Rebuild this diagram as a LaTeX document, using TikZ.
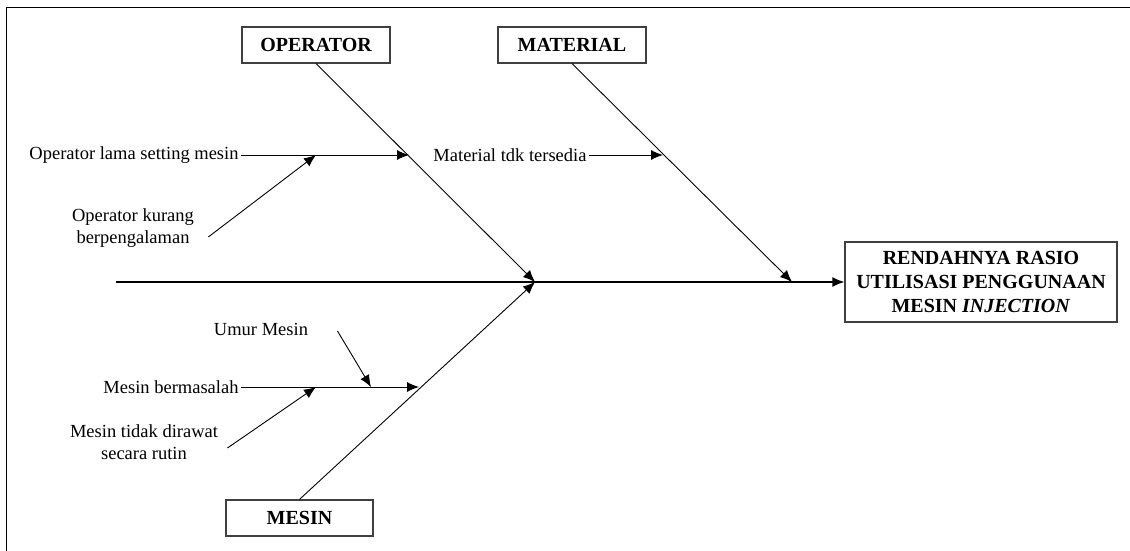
\documentclass[tikz,border=0pt]{standalone}
\usepackage{fontspec}
\setmainfont{Liberation Serif}
\usetikzlibrary{positioning, arrows.meta}

\begin{document}
\begin{tikzpicture}[x=1pt, y=-1pt, >={Latex[length=12pt,width=10pt]}, line width=0.9pt,
    kotak/.style={draw=black!75, line width=1.2pt,
        minimum width=148pt, minimum height=36pt,
        font=\fontsize{20}{24}\selectfont\bfseries},
    sebab/.style={font=\fontsize{18.5}{22}\selectfont, align=center, inner sep=2pt}]

    \useasboundingbox (0,0) rectangle (1130,551);
    % bingkai
    \draw [line width=1pt] (1130,8) -- (6,8) -- (6,551);

    \node [kotak] (operator) at (316,45) {OPERATOR};
    \node [kotak] (material) at (572,45) {MATERIAL};
    \node [kotak,
        minimum width=147pt
    ] (mesin) at (299.5,518) {MESIN};
    \node [kotak,
        minimum width=272pt,
        minimum height=80pt,
        align=center,
        inner sep=0pt
    ] (masalah) at (981,282) {RENDAHNYA RASIO\\UTILISASI PENGGUNAAN\\MESIN \textit{INJECTION}};

    % tulang utama
    \coordinate (ekor) at (116,282);
    \coordinate (kepala) at (535,282);
    \coordinate (sendiMat) at (792,282);
    \draw [->, line width=1.4pt] (ekor) -- (masalah);
    \draw [->] (operator.south) -- (kepala);
    \draw [->] (material.south) -- (sendiMat);
    \draw [->] (mesin.north) -- (kepala);

    % sebab operator
    \node [sebab, anchor=east] (opLama) at (241,155) {Operator lama setting mesin};
    \coordinate (sendiOp) at (409,155);
    \draw [->] (opLama) -- (sendiOp);
    \node [sebab] (opKurang) at (133,228) {Operator kurang\\berpengalaman};
    \coordinate (sendiKurang) at (316,155);
    \draw [->] ([shift={(12pt,-9pt)}]opKurang.east) -- (sendiKurang);

    % sebab material
    \node [sebab, anchor=west] (matTdk) at (431,155) {Material tdk tersedia};
    \coordinate (sendiMatTdk) at (663,155);
    \draw [->] (matTdk) -- (sendiMatTdk);

    % sebab mesin
    \node [sebab, anchor=east] (msMasalah) at (241,387) {Mesin bermasalah};
    \coordinate (sendiMs) at (419,387);
    \draw [->] (msMasalah) -- (sendiMs);
    \node [sebab] (umur) at (261,329) {Umur Mesin};
    \coordinate (sendiUmur) at (371,387);
    \draw [->] ([shift={(27pt,-2pt)}]umur.east) -- (sendiUmur);
    \node [sebab] (msRawat) at (144,442) {Mesin tidak dirawat\\secara rutin};
    \coordinate (sendiRawat) at (316,387);
    \draw [->] ([shift={(7pt,-6pt)}]msRawat.east) -- (sendiRawat);

\end{tikzpicture}
\end{document}
